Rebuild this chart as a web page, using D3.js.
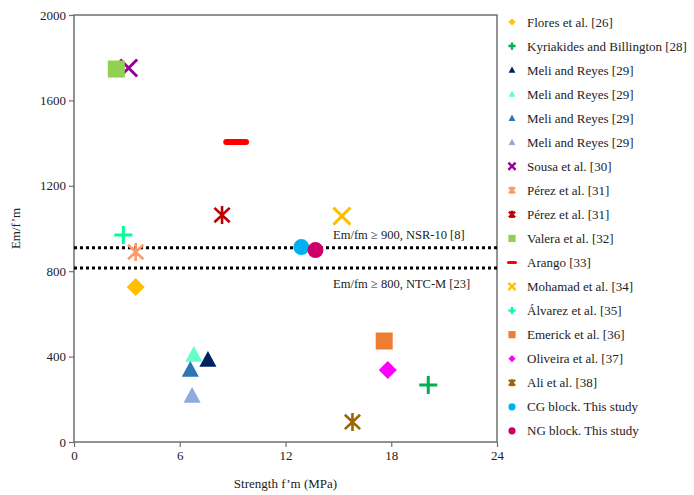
<!DOCTYPE html>
<html>
<head>
<meta charset="utf-8">
<script src="https://cdn.jsdelivr.net/npm/d3@7"></script>
<style>
  body { margin: 0; background: #fff; }
  text { font-family: "Liberation Serif", "Times New Roman", serif; fill: #222; }
</style>
</head>
<body>
<svg id="chart"></svg>
<script>
// series names, colours, marker shapes, and their (strength, Em/f'm) points
var seriesNames = [
    "Flores et al. [26]", "Kyriakides and Billington [28]", "Meli and Reyes [29]",
    "Meli and Reyes [29]", "Meli and Reyes [29]", "Meli and Reyes [29]",
    "Sousa et al. [30]", "Pérez et al. [31]", "Pérez et al. [31]", "Valera et al. [32]",
    "Arango [33]", "Mohamad et al. [34]", "Álvarez  et al. [35]", "Emerick  et al. [36]",
    "Oliveira  et al. [37]", "Ali  et al. [38]", "CG block. This study", "NG block. This study"
];
var seriesColors = [
    "#ffc000", "#00b050", "#002060", "#66ffcc", "#2e75b6", "#8faadc",
    "#990099", "#ff9966", "#c00000", "#92d050", "#ff0000", "#ffc000",
    "#00ff99", "#ed7d31", "#ff00ff", "#996600", "#00b0f0", "#cc0066"
];
var seriesShapes = [
    "diamond", "plus", "triangle", "triangle", "triangle", "triangle",
    "x", "star", "star", "square", "dash", "x",
    "plus", "square", "diamond", "star", "circle", "circle"
];
var strengthValues = [3.5, 20.1, 7.6, 6.8, 6.6, 6.7, 3.1, 3.5, 8.4, 2.4, 9.2, 15.2, 2.8, 17.6, 17.8, 15.8, 12.9, 13.7];
var emRatioValues = [726, 267, 384, 407, 337, 215, 1752, 890, 1063, 1747, 1405, 1058, 970, 473, 337, 94, 913, 899];

var xTicks = [0, 6, 12, 18, 24];
var yTicks = [0, 400, 800, 1200, 1600, 2000];

// code limit lines
var limitValues = [910, 815];
var limitLabels = ["Em/fm \u2265 900, NSR-10 [8]", "Em/fm \u2265 800, NTC-M [23]"];

var w = 694;
var h = 495;
var margin = { top: 15, right: 197, bottom: 53, left: 74 };

var svg = d3.select("#chart").attr("width", w).attr("height", h);
var width = w - margin.left - margin.right;
var height = h - margin.top - margin.bottom;

var x = d3.scaleLinear().domain([0, 24]).range([0, width]);
var y = d3.scaleLinear().domain([0, 2000]).range([height, 0]);

var g = svg.append("g")
    .attr("transform", "translate(" + margin.left + "," + margin.top + ")");

// marker paths, centred on 0,0
var markerPath = function(shape, s) {
    switch (shape) {
        case "diamond":
            return "M0," + (-s) + "L" + s + ",0L0," + s + "L" + (-s) + ",0Z";
        case "triangle":
            return "M0," + (-s) + "L" + (s * 0.95) + "," + (s * 0.75) + "L" + (-s * 0.95) + "," + (s * 0.75) + "Z";
        case "square":
            return "M" + (-s) + "," + (-s) + "h" + (2 * s) + "v" + (2 * s) + "h" + (-2 * s) + "Z";
        case "x":
            return "M" + (-s) + "," + (-s) + "L" + s + "," + s + "M" + s + "," + (-s) + "L" + (-s) + "," + s;
        case "plus":
            return "M" + (-s) + ",0H" + s + "M0," + (-s) + "V" + s;
        case "star":
            return "M" + (-s * 0.85) + "," + (-s * 0.8) + "L" + (s * 0.85) + "," + (s * 0.8) +
                "M" + (s * 0.85) + "," + (-s * 0.8) + "L" + (-s * 0.85) + "," + (s * 0.8) +
                "M0," + (-s) + "V" + s;
        case "dash":
            return "M" + (-s * 1.1) + ",0H" + (s * 1.1);
        case "circle":
            return d3.arc()({ innerRadius: 0, outerRadius: s, startAngle: 0, endAngle: 2 * Math.PI });
    }
};
var isStroked = function(shape) {
    return shape === "x" || shape === "plus" || shape === "star" || shape === "dash";
};
var markerSize = { diamond: 9, triangle: 9, square: 8.5, x: 8.5, plus: 9, star: 9, dash: 9, circle: 8 };
var strokeWidth = { x: 3, plus: 3, star: 2.6, dash: 6 };

// frame
g.append("rect")
    .attr("width", width).attr("height", height)
    .attr("fill", "none").attr("stroke", "#6f6f6f").attr("stroke-width", 1.5);

// limit lines
g.selectAll(".limit")
    .data(limitValues)
    .enter().append("line")
    .attr("x1", 0).attr("x2", width)
    .attr("y1", function(d) { return y(d); })
    .attr("y2", function(d) { return y(d); })
    .attr("stroke", "#000").attr("stroke-width", 3)
    .attr("stroke-dasharray", "3,3");

g.append("text")
    .attr("x", x(14.7)).attr("y", y(limitValues[0]) - 9)
    .attr("font-size", 12.5)
    .text(limitLabels[0]);
g.append("text")
    .attr("x", x(14.7)).attr("y", y(limitValues[1]) + 20)
    .attr("font-size", 12.5)
    .text(limitLabels[1]);

// points
var points = seriesNames.map(function(name, i) {
    return { name: name, color: seriesColors[i], shape: seriesShapes[i], x: strengthValues[i], y: emRatioValues[i] };
});

g.append("g").selectAll("path")
    .data(points)
    .enter().append("path")
    .attr("transform", function(d) { return "translate(" + x(d.x) + "," + y(d.y) + ")"; })
    .attr("d", function(d) { return markerPath(d.shape, markerSize[d.shape]); })
    .attr("fill", function(d) { return isStroked(d.shape) ? "none" : d.color; })
    .attr("stroke", function(d) { return isStroked(d.shape) ? d.color : "none"; })
    .attr("stroke-width", function(d) { return strokeWidth[d.shape] || 0; })
    .attr("stroke-linecap", function(d) { return d.shape === "dash" ? "round" : "butt"; });

// axes
var xAxis = g.append("g")
    .attr("transform", "translate(0," + height + ")")
    .call(d3.axisBottom(x).tickValues(xTicks).tickFormat(d3.format("d")).tickSize(5).tickPadding(4));
var yAxis = g.append("g")
    .call(d3.axisLeft(y).tickValues(yTicks).tickFormat(d3.format("d")).tickSize(5).tickPadding(3));
[xAxis, yAxis].forEach(function(a) {
    a.select(".domain").remove();
    a.selectAll("line").attr("stroke", "#6f6f6f").attr("stroke-width", 1.2);
    a.selectAll("text").attr("font-size", 13)
        .attr("font-family", "Liberation Serif, serif").attr("fill", "#222");
});

// axis labels
svg.append("text")
    .attr("text-anchor", "middle")
    .attr("font-size", 13)
    .attr("transform", "translate(" + 20 + "," + (margin.top + height / 2) + ")rotate(-90)")
    .text("Em/f\u2019m");
svg.append("text")
    .attr("text-anchor", "middle")
    .attr("font-size", 13)
    .attr("x", margin.left + width / 2)
    .attr("y", 488)
    .text("Strength f\u2019m (MPa)");

// legend
var legend = svg.append("g")
    .attr("transform", "translate(512,22)");
var items = legend.selectAll("g")
    .data(points)
    .enter().append("g")
    .attr("transform", function(d, i) { return "translate(0," + (i * 24.05) + ")"; });
items.append("path")
    .attr("d", function(d) { return markerPath(d.shape, d.shape === "dash" ? 3.2 : 3.6); })
    .attr("fill", function(d) { return isStroked(d.shape) ? "none" : d.color; })
    .attr("stroke", function(d) { return isStroked(d.shape) ? d.color : "none"; })
    .attr("stroke-width", function(d) { return d.shape === "dash" ? 3 : (isStroked(d.shape) ? 2.4 : 0); })
    .attr("stroke-linecap", function(d) { return d.shape === "dash" ? "round" : "butt"; });
items.append("text")
    .attr("x", 15).attr("y", 4.5)
    .attr("font-size", 13)
    .text(function(d) { return d.name; });
</script>
</body>
</html>
